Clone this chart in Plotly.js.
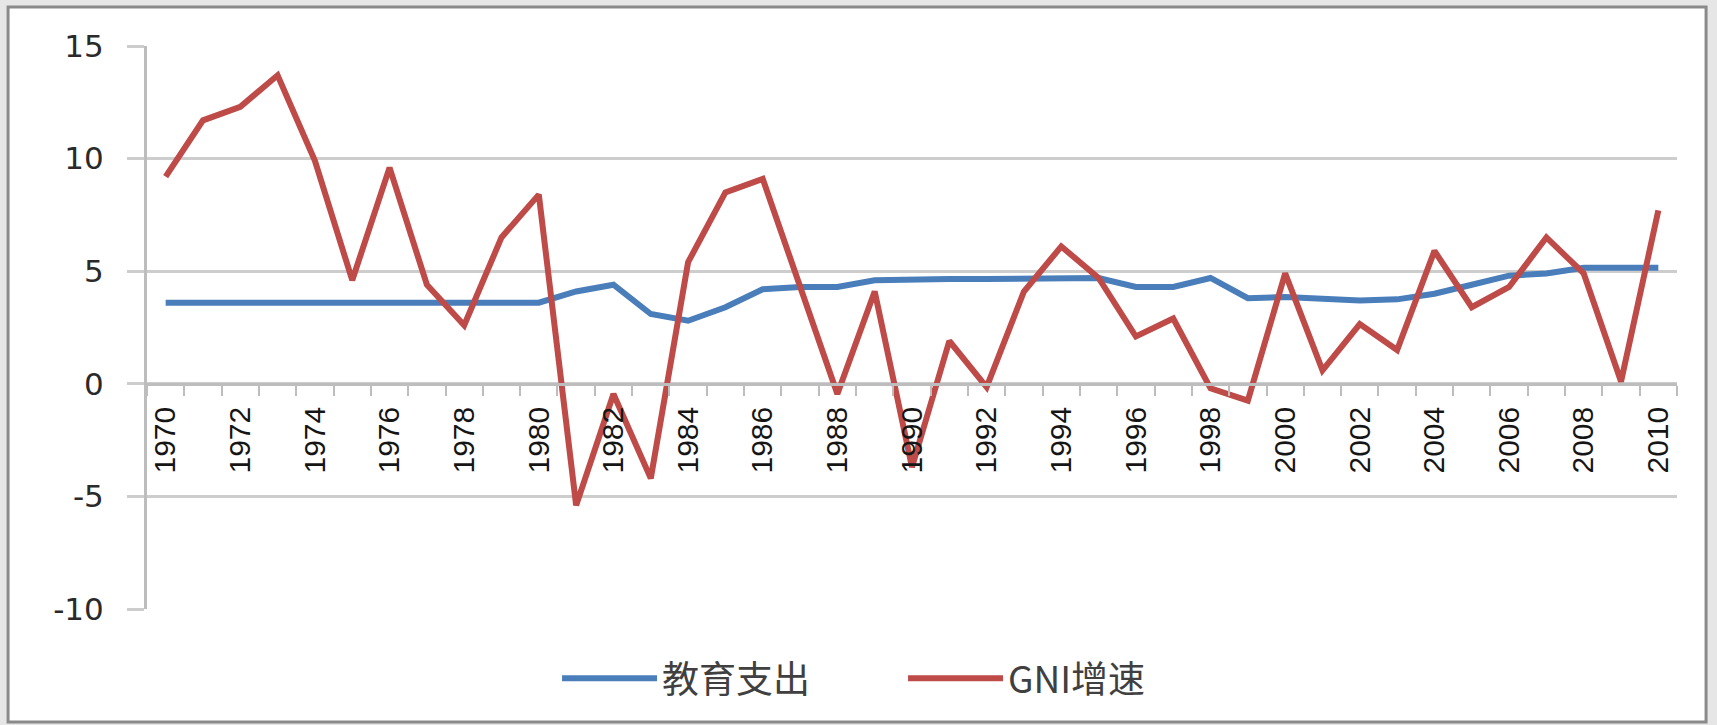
<!DOCTYPE html>
<html>
<head>
<meta charset="utf-8">
<script src="https://cdn.plot.ly/plotly-3.0.1.min.js"></script>
<style>
  html, body { margin: 0; padding: 0; background: #e6e6e6; }
  #chart { width: 1717px; height: 725px; }
</style>
</head>
<body>
<div id="chart"></div>
<script>
// ---- data ----
const years = [1970,1971,1972,1973,1974,1975,1976,1977,1978,1979,
               1980,1981,1982,1983,1984,1985,1986,1987,1988,1989,
               1990,1991,1992,1993,1994,1995,1996,1997,1998,1999,
               2000,2001,2002,2003,2004,2005,2006,2007,2008,2009,2010];

const eduSpending = [3.6,3.6,3.6,3.6,3.6,3.6,3.6,3.6,3.6,3.6,
                     3.6,4.1,4.4,3.1,2.8,3.4,4.2,4.3,4.3,4.6,
                     4.65,4.65,4.65,4.65,4.65,4.7,4.3,4.3,4.7,3.8,
                     3.85,3.8,3.7,3.75,4.0,4.4,4.8,4.9,5.15,5.15,5.15];

const gniGrowth = [9.2,11.7,12.3,13.7,9.9,4.6,9.6,4.4,2.6,6.5,
                   8.4,-5.4,-0.45,-4.2,5.4,8.5,9.1,4.3,-0.45,4.1,
                   -3.7,1.9,-0.15,4.1,6.1,4.7,2.1,2.9,-0.2,-0.75,
                   4.9,0.6,2.65,1.5,5.9,3.4,4.3,6.5,4.9,0.1,7.7];

const seriesNames = ['教育支出', 'GNI增速'];
const xTickVals = [1970,1972,1974,1976,1978,1980,1982,1984,1986,1988,1990,
                   1992,1994,1996,1998,2000,2002,2004,2006,2008,2010];
const xTickText = ['1970','1972','1974','1976','1978','1980','1982','1984','1986','1988','1990',
                   '1992','1994','1996','1998','2000','2002','2004','2006','2008','2010'];
const yTickVals = [-10,-5,0,5,10,15];
const yTickText = ['-10','-5','0','5','10','15'];

// ---- chart ----
const traces = [
  { x: years, y: eduSpending, name: seriesNames[0], type: 'scatter', mode: 'lines',
    line: { color: '#4A7EBB', width: 6 } },
  { x: years, y: gniGrowth, name: seriesNames[1], type: 'scatter', mode: 'lines',
    line: { color: '#BE4B48', width: 6 } }
];

const layout = {
  width: 1717, height: 725,
  margin: { l: 147, r: 40, t: 46, b: 116 },
  paper_bgcolor: '#e6e6e6',
  plot_bgcolor: 'rgba(0,0,0,0)',
  showlegend: true,
  legend: {
    orientation: 'h', x: 0.268, xanchor: 'left', y: -0.124, yanchor: 'middle',
    font: { family: '"Noto Sans CJK SC", sans-serif', size: 37, color: '#404040' },
    bgcolor: 'rgba(0,0,0,0)', itemwidth: 95,
    entrywidth: 236, entrywidthmode: 'pixels'
  },
  xaxis: {
    type: 'linear', range: [1969.5, 2010.5], fixedrange: true,
    anchor: 'free', position: 0.4,
    showline: true, linecolor: '#bdbdbd', linewidth: 3,
    showgrid: false, zeroline: false,
    tickmode: 'array', tickvals: xTickVals, ticktext: xTickText,
    ticks: '', tickangle: -90, ticklabelstandoff: 9,
    tickfont: { family: '"Liberation Sans", Arial, sans-serif', size: 30, color: '#151515' },
    minor: { ticks: 'outside', tickmode: 'linear', tick0: 1969.5, dtick: 1,
             ticklen: 10, tickwidth: 2, tickcolor: '#bdbdbd', showgrid: false }
  },
  yaxis: {
    range: [-10, 15], fixedrange: true,
    tickmode: 'array', tickvals: yTickVals, ticktext: yTickText,
    showline: true, linecolor: '#bdbdbd', linewidth: 3,
    showgrid: true, gridcolor: '#cdcdcd', gridwidth: 3,
    zeroline: false,
    ticks: 'outside', ticklen: 17, tickwidth: 3, tickcolor: '#cdcdcd',
    ticklabelstandoff: 17,
    tickfont: { family: '"DejaVu Sans", sans-serif', size: 31, color: '#2a2a2a' }
  },
  shapes: [
    { type: 'rect', xref: 'paper', yref: 'paper', layer: 'below',
      x0: -0.0908, x1: 1.0190, y0: -0.2007, y1: 1.0693,
      fillcolor: '#ffffff', line: { color: '#8a8a8a', width: 3 } }
  ]
};

Plotly.newPlot('chart', traces, layout, { displayModeBar: false, staticPlot: true });
</script>
</body>
</html>
